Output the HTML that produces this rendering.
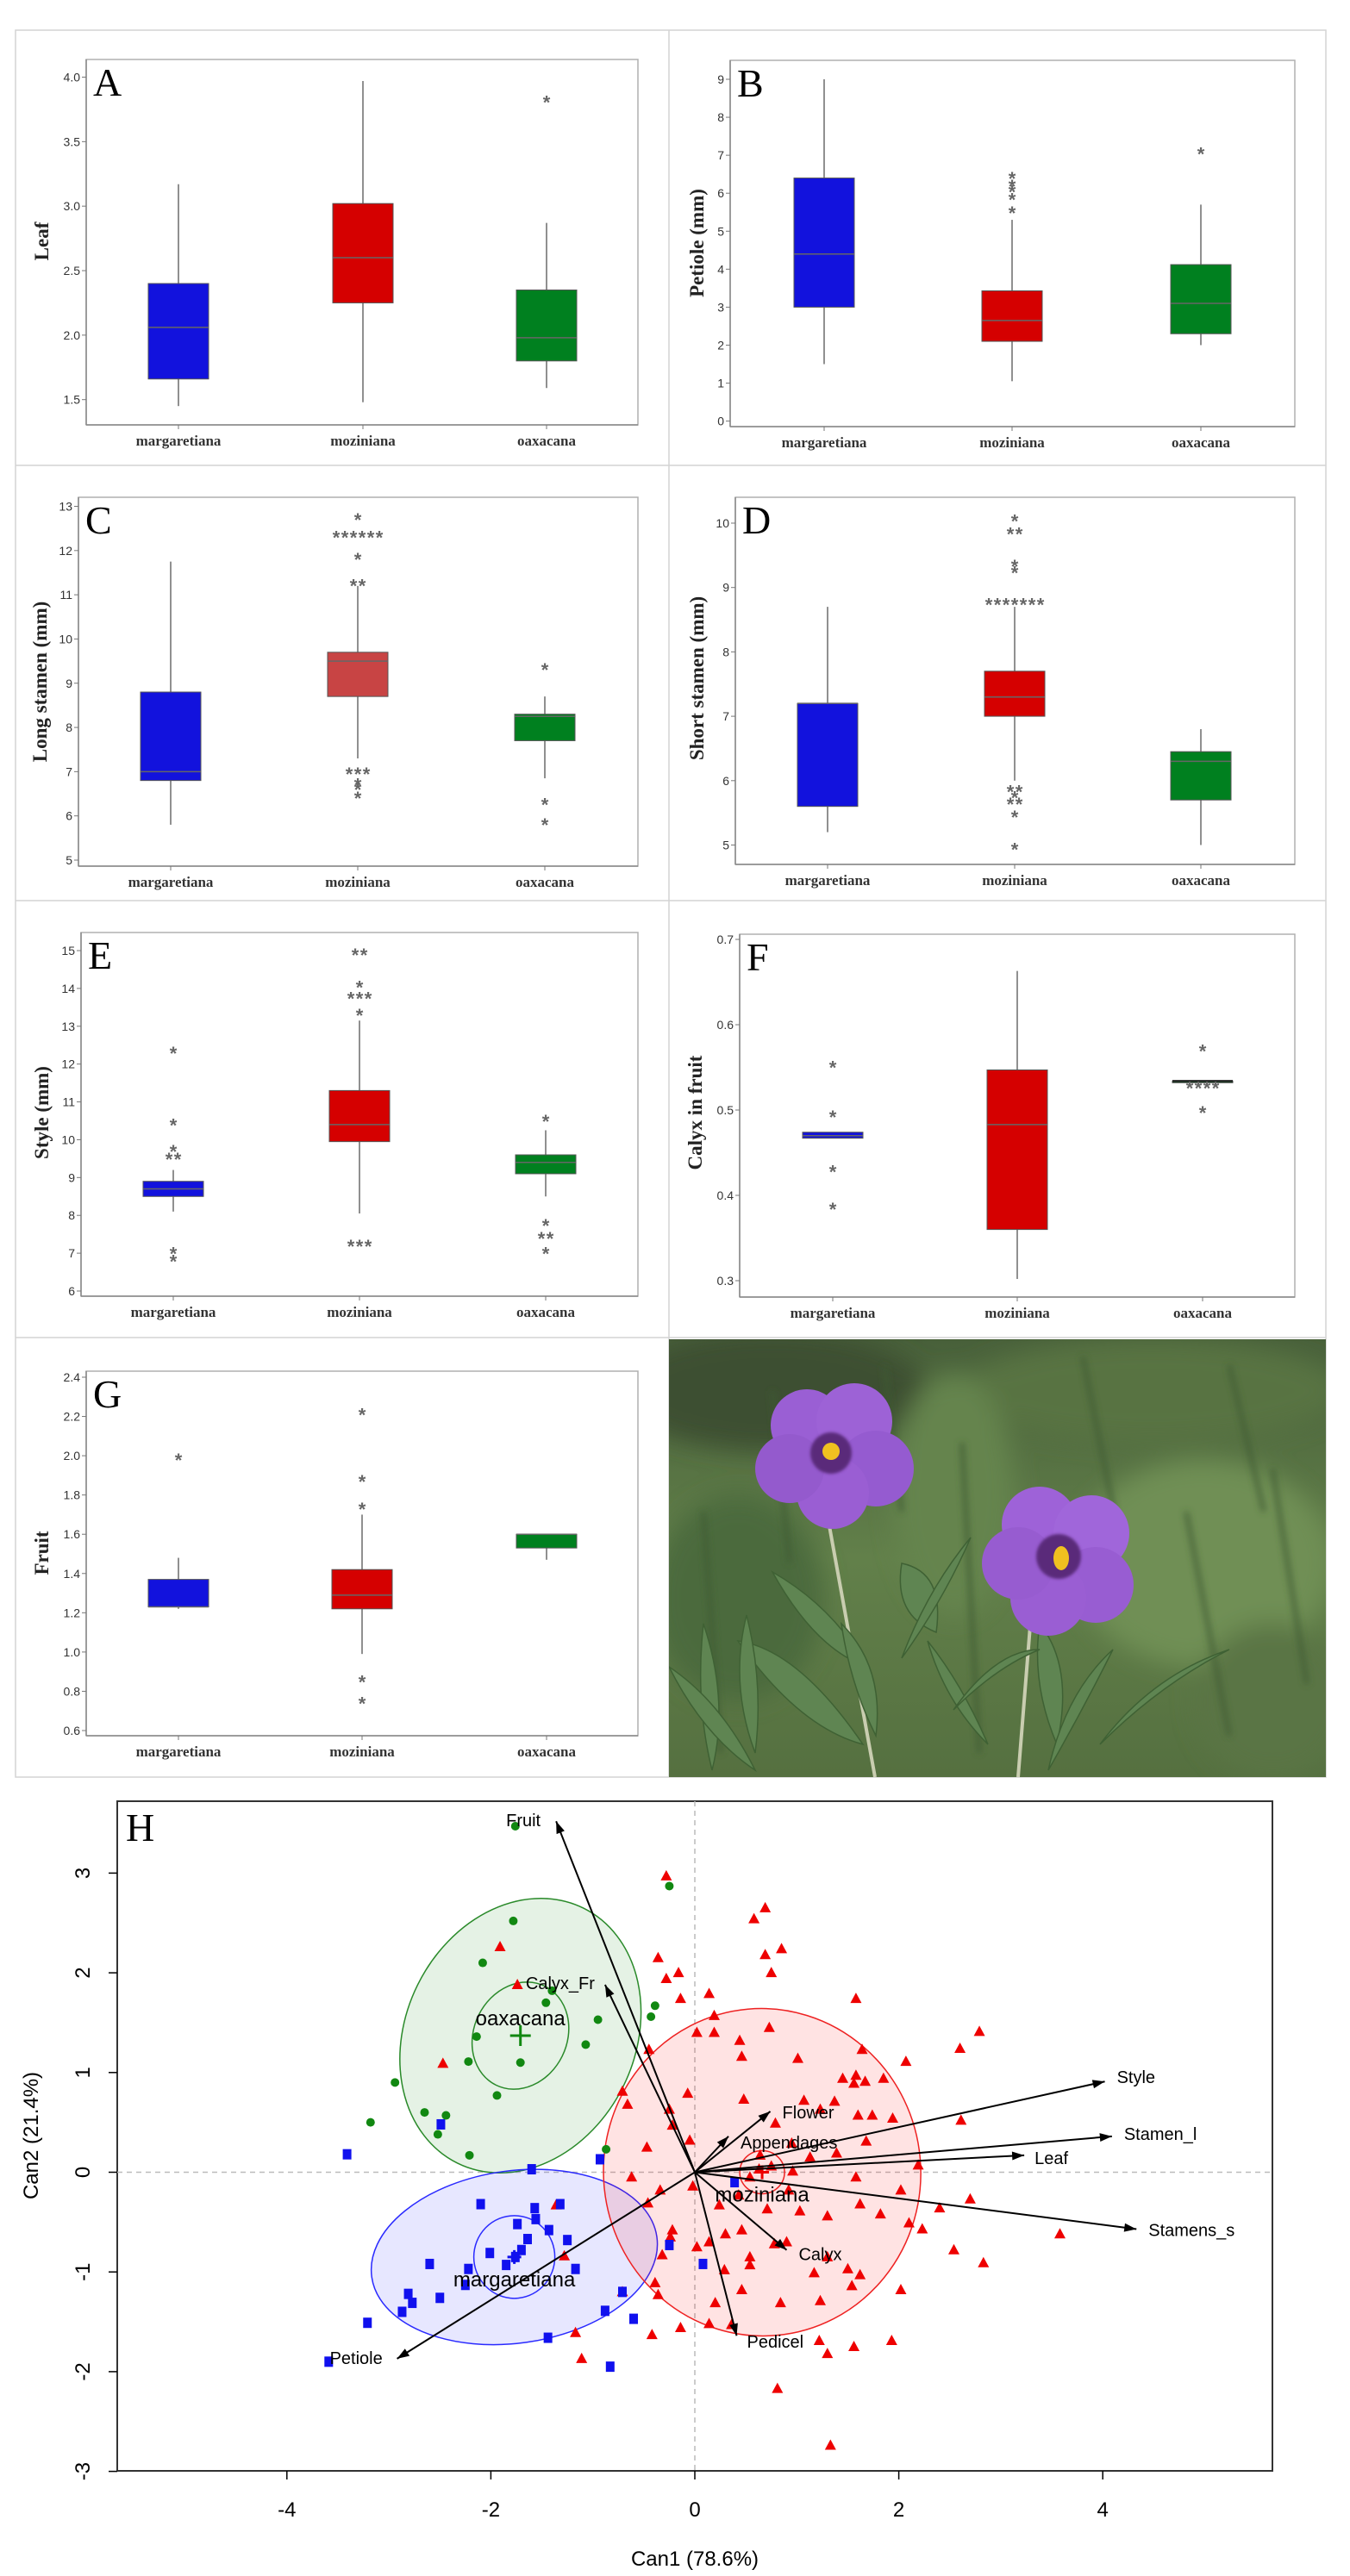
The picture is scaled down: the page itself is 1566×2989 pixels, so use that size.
<!DOCTYPE html>
<html><head><meta charset="utf-8">
<style>
html,body{margin:0;padding:0;background:#fff;}
svg{display:block;}
.tick{font-family:"Liberation Sans Narrow","Liberation Sans",sans-serif;font-size:14px;fill:#333;}
.cat{font-family:"Liberation Serif",serif;font-size:17px;font-weight:bold;fill:#333;}
.ytitle{font-family:"Liberation Serif",serif;font-size:23px;font-weight:bold;fill:#222;}
.letter{font-family:"Liberation Serif",serif;font-size:46px;fill:#000;}
.ast{font-family:"Liberation Sans",sans-serif;font-size:22px;font-weight:bold;fill:#666;}
.hl{font-family:"Liberation Sans Narrow","Liberation Sans",sans-serif;font-size:20px;fill:#000;}
.hax{font-family:"Liberation Sans Narrow","Liberation Sans",sans-serif;font-size:24px;fill:#000;}
</style></head>
<body>
<svg id="fig" width="1566" height="2989" viewBox="0 0 1566 2989" xmlns="http://www.w3.org/2000/svg">
<defs>
<filter id="blur8"><feGaussianBlur stdDeviation="14"/></filter>
<filter id="blur2"><feGaussianBlur stdDeviation="1.5"/></filter>
<filter id="blur4"><feGaussianBlur stdDeviation="4"/></filter>
<linearGradient id="bg" x1="0" y1="0" x2="0" y2="1"><stop offset="0" stop-color="#48603a"/><stop offset="0.5" stop-color="#62804a"/><stop offset="1" stop-color="#557040"/></linearGradient>
</defs>
<g id="grid">
<rect x="18" y="35" width="1520" height="2027" fill="none" stroke="#d4d4d4" stroke-width="1.5"/>
<line x1="776" y1="35" x2="776" y2="2062" stroke="#d4d4d4" stroke-width="1.5"/>
<line x1="18" y1="540" x2="1538" y2="540" stroke="#d4d4d4" stroke-width="1.5"/>
<line x1="18" y1="1045" x2="1538" y2="1045" stroke="#d4d4d4" stroke-width="1.5"/>
<line x1="18" y1="1552" x2="1538" y2="1552" stroke="#d4d4d4" stroke-width="1.5"/>
</g>
<g id="photo" transform="translate(776,1554)">
<svg width="762" height="508" overflow="hidden">
<rect width="762" height="508" fill="url(#bg)"/>
<g filter="url(#blur8)">
<ellipse cx="120" cy="60" rx="180" ry="70" fill="#3c5030"/>
<ellipse cx="560" cy="60" rx="220" ry="60" fill="#587343"/>
<ellipse cx="620" cy="260" rx="150" ry="120" fill="#6f8f55"/>
<ellipse cx="80" cy="300" rx="100" ry="120" fill="#4c6a3c"/>
<ellipse cx="700" cy="420" rx="90" ry="90" fill="#5a7545"/>
<ellipse cx="330" cy="180" rx="70" ry="140" fill="#65844d"/>
</g>
<g stroke="#3d5a30" stroke-width="4" filter="url(#blur4)" fill="none">
<path d="M340 120 L360 480"/><path d="M600 200 L650 460"/><path d="M700 150 L740 400"/><path d="M40 200 L60 480"/>
<path d="M250 30 L270 200"/><path d="M480 20 L520 220"/><path d="M650 30 L690 200"/><path d="M120 60 L140 260"/>
</g>
<line x1="183" y1="200" x2="239" y2="508" stroke="#c9cdb0" stroke-width="4"/>
<line x1="420" y1="320" x2="405" y2="508" stroke="#c9cdb0" stroke-width="4"/>
<g fill="#5f8552" stroke="#3f6134" stroke-width="1.5">
<path d="M80 350 Q150 360 225 470 Q150 450 80 350Z"/>
<path d="M90 320 Q110 400 100 480 Q70 400 90 320Z"/>
<path d="M40 330 Q30 420 50 500 Q70 420 40 330Z"/>
<path d="M120 270 Q190 310 230 380 Q170 360 120 270Z"/>
<path d="M270 260 Q320 270 310 340 Q260 320 270 260Z"/>
<path d="M350 230 Q320 300 270 370 Q300 290 350 230Z"/>
<path d="M300 350 Q340 400 370 470 Q320 420 300 350Z"/>
<path d="M430 330 Q470 380 450 470 Q420 400 430 330Z"/>
<path d="M515 360 Q480 430 440 500 Q460 410 515 360Z"/>
<path d="M650 360 Q570 400 500 470 Q560 390 650 360Z"/>
<path d="M430 360 Q380 380 330 430 Q380 360 430 360Z"/>
<path d="M0 380 Q60 420 100 500 Q40 460 0 380Z"/>
<path d="M200 330 Q250 380 240 460 Q210 400 200 330Z"/>
</g>
<g>
<circle cx="160" cy="100" r="42" fill="#9a5fd4"/><circle cx="215" cy="95" r="44" fill="#9d62d6"/>
<circle cx="240" cy="150" r="44" fill="#955bd0"/><circle cx="190" cy="178" r="42" fill="#9a5ed3"/>
<circle cx="140" cy="150" r="40" fill="#945acd"/>
<circle cx="188" cy="132" r="24" fill="#5a2a7a" filter="url(#blur2)"/>
<circle cx="188" cy="130" r="10" fill="#f0c020"/>
<circle cx="430" cy="215" r="44" fill="#9e62d8"/><circle cx="490" cy="225" r="44" fill="#a066da"/>
<circle cx="495" cy="285" r="44" fill="#985dd2"/><circle cx="440" cy="300" r="44" fill="#9a5ed3"/>
<circle cx="405" cy="260" r="42" fill="#975cd0"/>
<circle cx="452" cy="252" r="26" fill="#5a2a7a" filter="url(#blur2)"/>
<ellipse cx="455" cy="254" rx="9" ry="14" fill="#f0c020"/>
</g>
</svg>
</g>
</svg>
<script>
// ---------- Box-plot data (value arrays: margaretiana, moziniana, oaxacana) ----------
const categories = ["margaretiana","moziniana","oaxacana"];
const leafQ1=[1.66,2.25,1.80], leafMed=[2.06,2.60,1.98], leafQ3=[2.40,3.02,2.35], leafLo=[1.45,1.48,1.59], leafHi=[3.17,3.97,2.87];
const leafOut=[[],[],[3.84]];
const petQ1=[3.0,2.1,2.3], petMed=[4.4,2.65,3.1], petQ3=[6.4,3.43,4.12], petLo=[1.5,1.05,2.0], petHi=[9.0,5.3,5.7];
const petOut=[[],[5.6,5.95,6.15,6.3,6.5],[7.15]];
const lsQ1=[6.8,8.7,7.7], lsMed=[7.0,9.5,8.25], lsQ3=[8.8,9.7,8.3], lsLo=[5.8,7.3,6.85], lsHi=[11.75,11.2,8.7];
const lsOut=[[],[11.3,11.3,11.9,12.4,12.4,12.4,12.4,12.4,12.4,12.8,7.05,7.05,7.05,6.8,6.7,6.5],[9.4,6.35,5.9]];
const ssQ1=[5.6,7.0,5.7], ssMed=[7.2,7.3,6.3], ssQ3=[7.2,7.7,6.45], ssLo=[5.2,6.0,5.0], ssHi=[8.7,8.7,6.8];
const ssOut=[[],[8.8,8.8,8.8,8.8,8.8,8.8,8.8,9.3,9.4,9.9,9.9,10.1,5.9,5.9,5.8,5.7,5.7,5.5,5.0],[]];
const stQ1=[8.5,9.95,9.1], stMed=[8.7,10.4,9.4], stQ3=[8.9,11.3,9.6], stLo=[8.1,8.05,8.5], stHi=[9.2,13.15,10.25];
const stOut=[[12.4,10.5,9.8,9.6,9.6,7.1,6.9],[15,15,14.15,13.85,13.85,13.85,13.4,7.3,7.3,7.3],[10.6,7.85,7.5,7.5,7.1]];
const cfQ1=[0.467,0.36,0.534], cfMed=[0.47,0.483,0.534], cfQ3=[0.474,0.547,0.534], cfLo=[0.467,0.302,0.534], cfHi=[0.474,0.663,0.534];
const cfOut=[[0.555,0.497,0.433,0.389],[],[0.574,0.531,0.531,0.531,0.531,0.502]];
const frQ1=[1.23,1.22,1.53], frMed=[1.23,1.29,1.60], frQ3=[1.37,1.42,1.60], frLo=[1.22,0.99,1.47], frHi=[1.48,1.70,1.60];
const frOut=[[2.0],[2.23,1.89,1.75,0.87,0.76],[]];
const leafTicks=[1.5,2.0,2.5,3.0,3.5,4.0];
const petTicks=[0,1,2,3,4,5,6,7,8,9];
const lsTicks=[5,6,7,8,9,10,11,12,13];
const ssTicks=[5,6,7,8,9,10];
const stTicks=[6,7,8,9,10,11,12,13,14,15];
const cfTicks=[0.3,0.4,0.5,0.6,0.7];
const frTicks=[0.6,0.8,1.0,1.2,1.4,1.6,1.8,2.0,2.2,2.4];

// ---------- Canonical (H) data ----------
const grnX=[-1.76,-0.25,-1.78,-2.08,-1.40,-1.46,-0.39,-0.43,-0.95,-2.14,-1.07,-2.22,-1.71,-2.94,-1.94,-2.65,-2.44,-3.18,-2.52,-2.21,-0.87];
const grnY=[3.47,2.87,2.52,2.10,1.82,1.70,1.67,1.56,1.53,1.36,1.28,1.11,1.10,0.90,0.77,0.60,0.57,0.50,0.38,0.17,0.23];
const bluX=[-2.49,-3.41,-1.60,-0.93,0.39,-2.10,-1.57,-1.32,-1.56,-1.74,-1.43,-1.64,-1.25,-1.70,-2.01,-1.76,-1.85,-1.17,-2.22,-2.60,-0.25,0.08,-2.81,-2.50,-2.25,-2.77,-2.87,-3.21,-0.71,-0.88,-0.60,-1.44,-0.83,-3.59];
const bluY=[0.48,0.18,0.03,0.13,-0.10,-0.32,-0.36,-0.32,-0.47,-0.52,-0.58,-0.67,-0.68,-0.78,-0.81,-0.85,-0.93,-0.97,-0.97,-0.92,-0.73,-0.92,-1.22,-1.26,-1.13,-1.31,-1.40,-1.51,-1.20,-1.39,-1.47,-1.66,-1.95,-1.90];
const redX=[-0.28,0.69,0.58,0.85,0.69,-0.36,0.75,-0.16,-0.28,-1.74,-1.91,1.58,0.14,-0.14,2.79,0.19,0.02,0.19,0.44,0.73,2.60,1.64,-0.45,0.46,1.01,2.07,-2.47,-0.71,-0.07,0.48,1.07,-0.66,2.61,1.45,1.58,1.85,1.67,1.56,1.37,1.74,1.60,1.23,1.94,-0.25,-0.05,-0.47,-0.22,0.79,0.95,0.64,1.68,1.39,1.13,2.19,-0.62,-0.34,0.92,0.43,1.58,2.02,2.70,2.40,2.10,2.23,0.71,1.03,1.30,1.62,1.82,-0.46,-0.02,0.24,0.46,0.30,-0.22,-0.24,-0.32,0.02,0.14,0.54,0.78,0.90,1.30,3.58,2.54,2.83,-1.36,-1.28,0.29,0.54,1.50,1.62,1.17,-0.39,-0.36,0.46,0.84,1.23,1.54,2.02,-0.71,-0.14,0.14,0.36,-0.42,-1.17,1.22,1.30,1.56,1.93,-1.11,0.81,1.33,0.20,0.96,0.63,0.75,0.54];
const redY=[2.97,2.65,2.54,2.24,2.18,2.15,2.00,2.00,1.94,1.88,2.26,1.74,1.79,1.74,1.41,1.57,1.40,1.40,1.32,1.45,1.24,1.23,1.23,1.16,1.14,1.11,1.09,0.81,0.79,0.73,0.72,0.68,0.52,0.94,0.97,0.94,0.91,0.89,0.71,0.57,0.57,0.63,0.54,0.63,0.32,0.25,0.47,0.49,0.29,0.17,0.31,0.19,0.15,0.07,-0.05,-0.18,-0.18,-0.23,-0.05,-0.18,-0.27,-0.36,-0.51,-0.57,-0.37,-0.39,-0.44,-0.32,-0.42,-0.31,-0.14,-0.33,-0.58,-0.62,-0.58,-0.65,-0.83,-0.75,-0.70,-0.85,-0.72,-0.70,-0.85,-0.62,-0.78,-0.91,-0.33,-0.84,-0.98,-0.93,-0.97,-1.03,-1.01,-1.11,-1.23,-1.18,-1.31,-1.29,-1.14,-1.18,-1.20,-1.56,-1.52,-1.53,-1.63,-1.61,-1.69,-1.82,-1.75,-1.69,-1.87,-2.17,-2.74,-1.31,0.01,0.03,0.06,-0.05];
const vecNames=["Fruit","Calyx_Fr","Flower","Appendages","Style","Stamen_l","Leaf","Stamens_s","Calyx","Pedicel","Petiole"];
const vecX=[-1.36,-0.88,0.74,0.33,4.02,4.09,3.23,4.33,0.90,0.41,-2.92];
const vecY=[3.52,1.88,0.61,0.36,0.91,0.36,0.17,-0.57,-0.78,-1.64,-1.87];
const hxTicks=[-4,-2,0,2,4];
const hyTicks=[-3,-2,-1,0,1,2,3];

const NS="http://www.w3.org/2000/svg";
const fig=document.getElementById("fig");
function mk(tag,attrs,parent,text){const e=document.createElementNS(NS,tag);for(const k in attrs)e.setAttribute(k,attrs[k]);if(text!==undefined)e.textContent=text;(parent||fig).appendChild(e);return e;}

const boxColors=["#1212dd","#d50000","#00801f"];
function boxPanel(cfg){
  const g=mk("g",{});
  
  
  const [fx,fy,fw,fh]=cfg.frame;
  const y=v=>cfg.py1+(v-cfg.v1)*(cfg.py0-cfg.py1)/(cfg.v0-cfg.v1);
  const fr=mk("rect",{x:fx,y:fy,width:fw,height:fh,fill:"#fff",stroke:"#b0b0b0","stroke-width":1.5},g);
  
  
  mk("line",{x1:fx,y1:fy,x2:fx,y2:fy+fh,stroke:"#888","stroke-width":1.5},g);
  mk("line",{x1:fx,y1:fy+fh,x2:fx+fw,y2:fy+fh,stroke:"#888","stroke-width":1.5},g);
  cfg.ticks.forEach(t=>{
    const yy=y(t);
    mk("line",{x1:fx-5,y1:yy,x2:fx,y2:yy,stroke:"#777"},g);
    const tl=mk("text",{x:fx-7,y:yy+5,"text-anchor":"end",class:"tick"},g,t.toFixed(cfg.dec));
    
    
  });
  const yt=mk("text",{x:0,y:0,transform:`translate(${cfg.tx},${cfg.ty}) rotate(-90)`,"text-anchor":"middle",class:"ytitle"},g,cfg.title);
  
  
  const lt=mk("text",{x:fx+8,y:fy+42,class:"letter"},g,cfg.letter);
  
  
  categories.forEach((c,i)=>{
    const cx=cfg.cats[i];
    mk("line",{x1:cx,y1:fy+fh,x2:cx,y2:fy+fh+5,stroke:"#777"},g);
    const cl=mk("text",{x:cx,y:fy+fh+24,"text-anchor":"middle",class:"cat"},g,c);
    
    
    const w=35;
    mk("line",{x1:cx,y1:y(cfg.lo[i]),x2:cx,y2:y(cfg.q1[i]),stroke:"#555","stroke-width":1.3},g);
    mk("line",{x1:cx,y1:y(cfg.q3[i]),x2:cx,y2:y(cfg.hi[i]),stroke:"#555","stroke-width":1.3},g);
    const h=Math.max(2,y(cfg.q1[i])-y(cfg.q3[i]));
    const col=(cfg.colors&&cfg.colors[i])||boxColors[i];
    const b=mk("rect",{x:cx-w,y:y(cfg.q3[i]),width:2*w,height:h,fill:col,stroke:"#555","stroke-width":1},g);
    
    
    mk("line",{x1:cx-w,y1:y(cfg.med[i]),x2:cx+w,y2:y(cfg.med[i]),stroke:(cfg.q1[i]===cfg.q3[i])?"#222":"#666","stroke-width":(cfg.q1[i]===cfg.q3[i])?2.5:1.5},g);
    const seen={};
    cfg.out[i].forEach(v=>{seen[v]=(seen[v]||0)+1;});
    const placed={};
    cfg.out[i].forEach(v=>{
      const n=seen[v];placed[v]=(placed[v]||0);
      const k=placed[v]++;
      const ox=(k-(n-1)/2)*10;
      const a=mk("text",{x:cx+ox,y:y(v)+13,"text-anchor":"middle",class:"ast"},g,"*");
      
      
    });
  });
}
boxPanel({name:"panel-a-leaf",frame:[100,69,640,424],v1:4.0,py1:89.5,v0:1.5,py0:463.7,ticks:leafTicks,dec:1,cats:[207,421,634],title:"Leaf",tx:56,ty:280,letter:"A",q1:leafQ1,med:leafMed,q3:leafQ3,lo:leafLo,hi:leafHi,out:leafOut});
boxPanel({name:"panel-b-petiole",frame:[847,70,655,425],v1:9,py1:92,v0:0,py0:488.6,ticks:petTicks,dec:0,cats:[956,1174,1393],title:"Petiole (mm)",tx:816,ty:282,letter:"B",q1:petQ1,med:petMed,q3:petQ3,lo:petLo,hi:petHi,out:petOut});
boxPanel({name:"panel-c-long-stamen",frame:[91,577,649,428],v1:13,py1:587.5,v0:5,py0:998,ticks:lsTicks,dec:0,cats:[198,415,632],title:"Long stamen (mm)",tx:54,ty:791,letter:"C",q1:lsQ1,med:lsMed,q3:lsQ3,lo:lsLo,hi:lsHi,out:lsOut,colors:["#1212dd","#c84444","#00801f"]});
boxPanel({name:"panel-d-short-stamen",frame:[853,577,649,426],v1:10,py1:607,v0:5,py0:980.5,ticks:ssTicks,dec:0,cats:[960,1177,1393],title:"Short stamen (mm)",tx:816,ty:787,letter:"D",q1:ssQ1,med:ssMed,q3:ssQ3,lo:ssLo,hi:ssHi,out:ssOut});
boxPanel({name:"panel-e-style",frame:[94,1082,646,422],v1:15,py1:1103,v0:6,py0:1498,ticks:stTicks,dec:0,cats:[201,417,633],title:"Style (mm)",tx:56,ty:1291,letter:"E",q1:stQ1,med:stMed,q3:stQ3,lo:stLo,hi:stHi,out:stOut});
boxPanel({name:"panel-f-calyx-fruit",frame:[858,1084,644,421],v1:0.7,py1:1090,v0:0.3,py0:1486,ticks:cfTicks,dec:1,cats:[966,1180,1395],title:"Calyx in fruit",tx:814,ty:1291,letter:"F",q1:cfQ1,med:cfMed,q3:cfQ3,lo:cfLo,hi:cfHi,out:cfOut});
boxPanel({name:"panel-g-fruit",frame:[100,1591,640,423],v1:2.4,py1:1598,v0:0.6,py0:2008,ticks:frTicks,dec:1,cats:[207,420,634],title:"Fruit",tx:56,ty:1802,letter:"G",q1:frQ1,med:frMed,q3:frQ3,lo:frLo,hi:frHi,out:frOut});

// ---------- Panel H ----------
(function(){
  const g=mk("g",{});
  
  
  const X=v=>806+118.3*v, Y=v=>2520.5-115.7*v;
  const fx=136,fy=2090,fw=1340,fh=777;
  mk("rect",{x:fx,y:fy,width:fw,height:fh,fill:"#fff",stroke:"#333","stroke-width":2},g);
  mk("line",{x1:X(0),y1:fy,x2:X(0),y2:fy+fh,stroke:"#bbb","stroke-dasharray":"6,5","stroke-width":1.5},g);
  mk("line",{x1:fx,y1:Y(0),x2:fx+fw,y2:Y(0),stroke:"#bbb","stroke-dasharray":"6,5","stroke-width":1.5},g);
  hxTicks.forEach(t=>{
    mk("line",{x1:X(t),y1:fy+fh,x2:X(t),y2:fy+fh+10,stroke:"#000","stroke-width":1.5},g);
    const l=mk("text",{x:X(t),y:2920,"text-anchor":"middle",class:"hax"},g,String(t));
    
    
  });
  hyTicks.forEach(t=>{
    mk("line",{x1:fx-10,y1:Y(t),x2:fx,y2:Y(t),stroke:"#000","stroke-width":1.5},g);
    const l=mk("text",{x:0,y:0,transform:`translate(104,${Y(t)}) rotate(-90)`,"text-anchor":"middle",class:"hax"},g,String(t));
    
    
  });
  const xt=mk("text",{x:806,y:2977,"text-anchor":"middle",class:"hax"},g,"Can1 (78.6%)");
  
  
  const yt=mk("text",{x:0,y:0,transform:"translate(44,2478) rotate(-90)","text-anchor":"middle",class:"hax"},g,"Can2 (21.4%)");
  
  
  const hl=mk("text",{x:146,y:2136,class:"letter"},g,"H");
  
  
  const ell=(cx,cy,rx,ry,rot,fill,stroke,name)=>{const e=mk("ellipse",{cx:0,cy:0,rx:rx,ry:ry,transform:`translate(${X(cx)},${Y(cy)}) rotate(${rot})`,fill:fill,stroke:stroke,"stroke-width":1.5},g);};
  ell(-1.71,1.37,165,133,-63.7,"rgba(0,128,0,0.1)","#2a8a2a","oaxacana-ellipse");
  ell(-1.71,1.37,64,54,-63.7,"none","#2a8a2a","oaxacana-inner-ellipse");
  ell(-1.77,-0.85,167,100,-8,"rgba(40,40,255,0.11)","#2a2aff","margaretiana-ellipse");
  ell(-1.77,-0.85,47,48,0,"none","#2a2aff","margaretiana-inner-ellipse");
  ell(0.66,0,184,190,-5,"rgba(255,0,0,0.11)","#ee2222","moziniana-ellipse");
  ell(0.66,0,26,25,0,"none","#ee2222","moziniana-inner-ellipse");
  redX.forEach((v,i)=>{const x=X(v),y=Y(redY[i]);const p=mk("polygon",{points:`${x},${y-7} ${x-6.5},${y+5} ${x+6.5},${y+5}`,fill:"#ee0000"},g);});
  bluX.forEach((v,i)=>{const p=mk("rect",{x:X(v)-5,y:Y(bluY[i])-6,width:10,height:12,fill:"#1010ee"},g);});
  grnX.forEach((v,i)=>{const p=mk("circle",{cx:X(v),cy:Y(grnY[i]),r:5,fill:"#118811"},g);});
  const plus=(cx,cy,col,s)=>{mk("path",{d:`M${X(cx)-s},${Y(cy)} h${2*s} M${X(cx)},${Y(cy)-s} v${2*s}`,stroke:col,"stroke-width":3},g);};
  plus(-1.71,1.37,"#118811",12);plus(-1.77,-0.85,"#1010ee",8);plus(0.66,0,"#ee0000",8);
  const gl=(t,x,y,n)=>{const e=mk("text",{x:x,y:y,"text-anchor":"middle",class:"hax"},g,t);};
  gl("oaxacana",X(-1.71),Y(1.37)-12,"oaxacana-label");
  gl("margaretiana",X(-1.77),Y(-0.85)+34,"margaretiana-label");
  gl("moziniana",X(0.66),Y(0)+34,"moziniana-label");
  const lab=[[-38,6,"middle"],[-52,5,"middle"],[14,8,"start"],[14,14,"start"],[14,2,"start"],[14,4,"start"],[12,10,"start"],[14,8,"start"],[14,12,"start"],[12,14,"start"],[-78,6,"start"]];
  vecNames.forEach((n,i)=>{
    const x2=X(vecX[i]),y2=Y(vecY[i]),x1=X(0),y1=Y(0);
    const ang=Math.atan2(y2-y1,x2-x1),L=14,W=5;
    mk("line",{x1:x1,y1:y1,x2:x2,y2:y2,stroke:"#000","stroke-width":2},g);
    const hx=x2-L*Math.cos(ang),hy=y2-L*Math.sin(ang);
    const a=mk("polygon",{points:`${x2},${y2} ${hx+W*Math.sin(ang)},${hy-W*Math.cos(ang)} ${hx-W*Math.sin(ang)},${hy+W*Math.cos(ang)}`,fill:"#000"},g);
    
    
    const t=mk("text",{x:x2+lab[i][0],y:y2+lab[i][1],"text-anchor":lab[i][2],class:"hl"},g,n);
    
    
  });
})();
</script>
</body></html>
